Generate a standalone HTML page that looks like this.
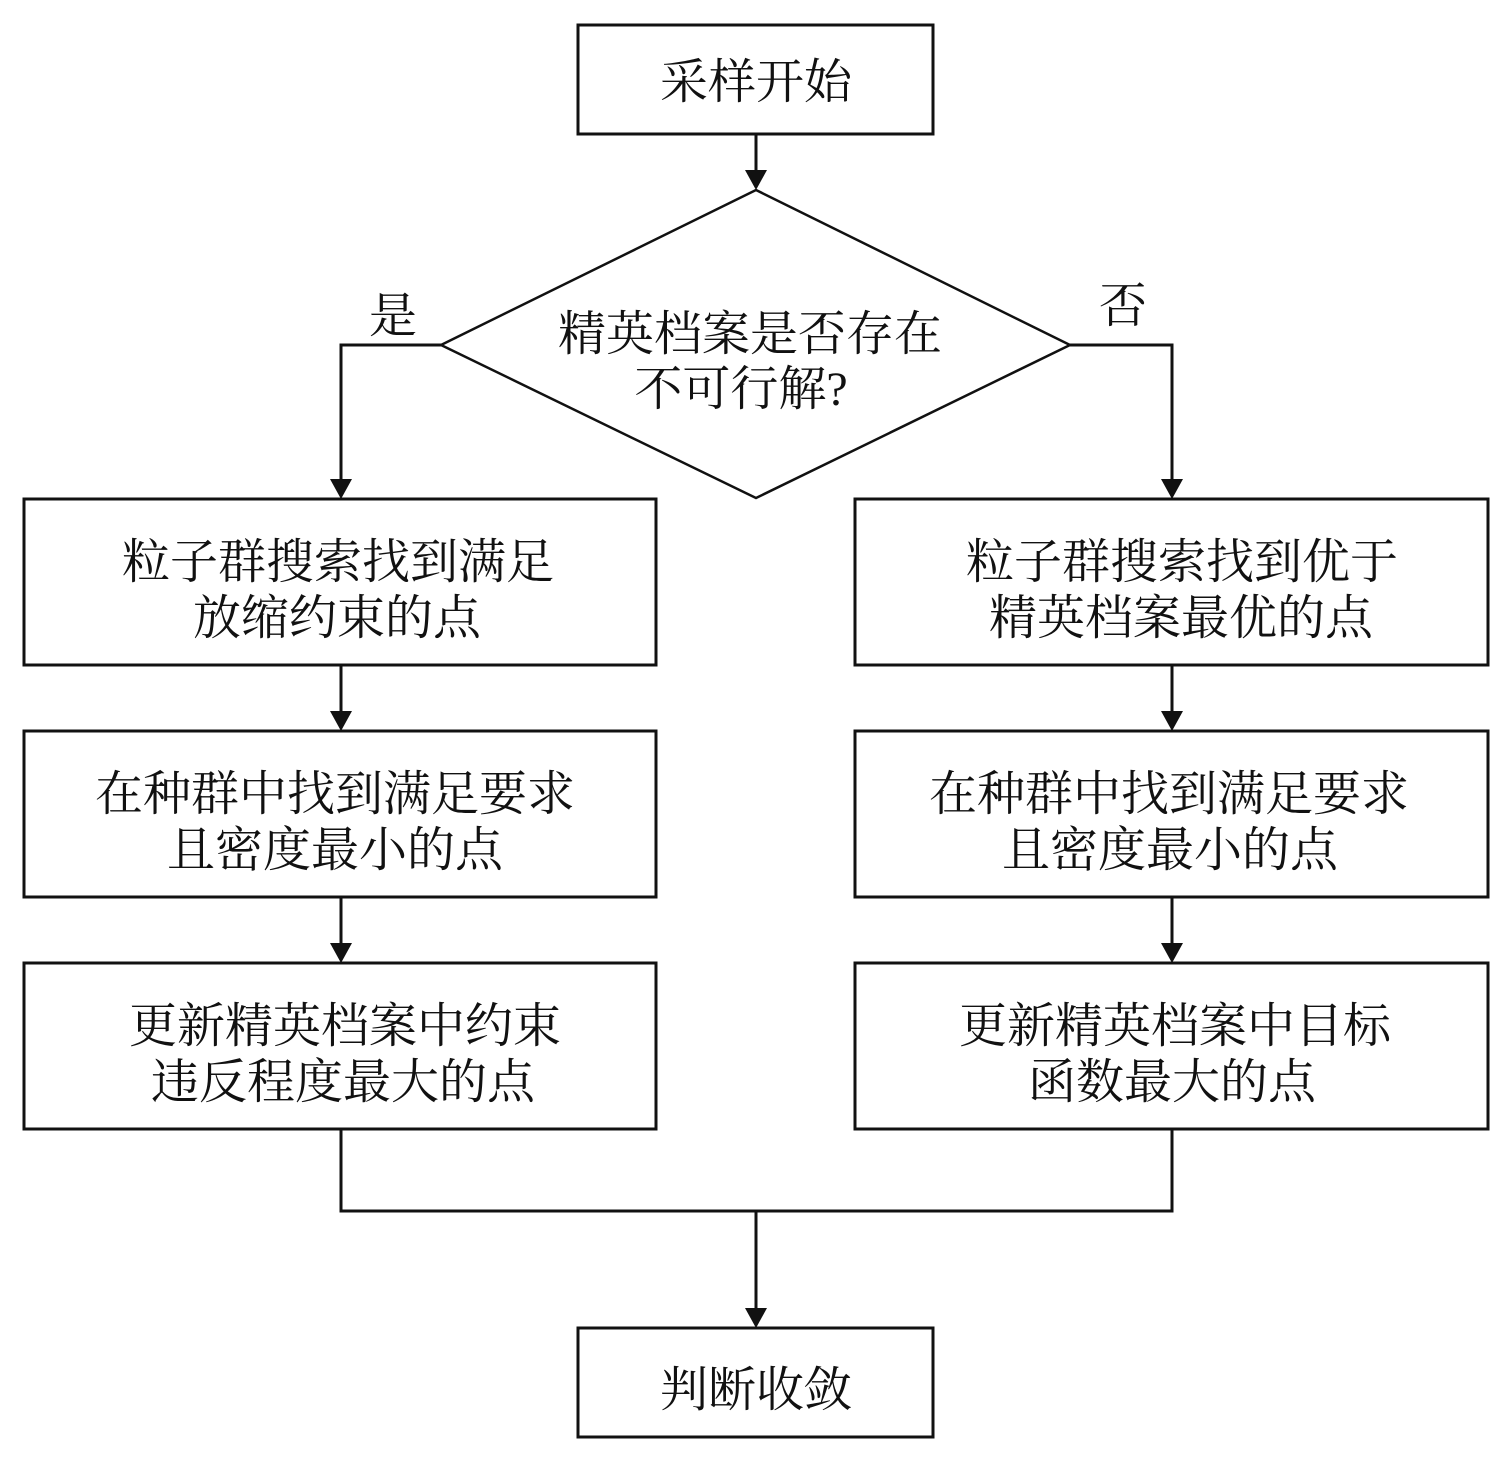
<!DOCTYPE html>
<html>
<head>
<meta charset="utf-8">
<style>
html,body{margin:0;padding:0;background:#fff;}
svg{display:block;}
text{font-family:"Liberation Serif","Noto Serif CJK SC","Noto Sans CJK SC",serif;font-size:48px;fill:#111;text-anchor:middle;}
</style>
</head>
<body>
<svg width="1510" height="1460" viewBox="0 0 1510 1460" xmlns="http://www.w3.org/2000/svg">
<defs>
<marker id="ah" markerWidth="22" markerHeight="20" refX="11" refY="20" orient="auto-start-reverse" markerUnits="userSpaceOnUse">
</marker>
</defs>
<g fill="none" stroke="#111" stroke-width="3">
<!-- boxes -->
<rect x="578" y="25" width="355" height="109"/>
<polygon points="756,190 1070,345 756,498 441,345" stroke-width="2.5"/>
<rect x="24" y="499" width="632" height="166"/>
<rect x="24" y="731" width="632" height="166"/>
<rect x="24" y="963" width="632" height="166"/>
<rect x="855" y="499" width="633" height="166"/>
<rect x="855" y="731" width="633" height="166"/>
<rect x="855" y="963" width="633" height="166"/>
<rect x="578" y="1328" width="355" height="109"/>
<!-- connectors -->
<line x1="756" y1="134" x2="756" y2="172"/>
<polyline points="441,345 341,345 341,481"/>
<polyline points="1070,345 1172,345 1172,481"/>
<line x1="341" y1="665" x2="341" y2="713"/>
<line x1="341" y1="897" x2="341" y2="945"/>
<line x1="1172" y1="665" x2="1172" y2="713"/>
<line x1="1172" y1="897" x2="1172" y2="945"/>
<polyline points="341,1129 341,1211 1172,1211 1172,1129"/>
<line x1="756" y1="1211" x2="756" y2="1310"/>
</g>
<g fill="#111" stroke="none">
<polygon points="745,170 767,170 756,190"/>
<polygon points="330,479 352,479 341,499"/>
<polygon points="1161,479 1183,479 1172,499"/>
<polygon points="330,711 352,711 341,731"/>
<polygon points="330,943 352,943 341,963"/>
<polygon points="1161,711 1183,711 1172,731"/>
<polygon points="1161,943 1183,943 1172,963"/>
<polygon points="745,1308 767,1308 756,1328"/>
</g>
<g>
<text x="756" y="98">采样开始</text>
<text x="750" y="350">精英档案是否存在</text>
<text x="741" y="405">不可行解?</text>
<text x="393" y="332">是</text>
<text x="1123" y="322">否</text>

<text x="338" y="578">粒子群搜索找到满足</text>
<text x="337" y="634">放缩约束的点</text>
<text x="335" y="810">在种群中找到满足要求</text>
<text x="335" y="866">且密度最小的点</text>
<text x="345" y="1042">更新精英档案中约束</text>
<text x="343" y="1098">违反程度最大的点</text>

<text x="1182" y="578">粒子群搜索找到优于</text>
<text x="1181" y="634">精英档案最优的点</text>
<text x="1169" y="810">在种群中找到满足要求</text>
<text x="1170" y="866">且密度最小的点</text>
<text x="1175" y="1042">更新精英档案中目标</text>
<text x="1172" y="1098">函数最大的点</text>

<text x="756" y="1406">判断收敛</text>
</g>
</svg>
</body>
</html>
